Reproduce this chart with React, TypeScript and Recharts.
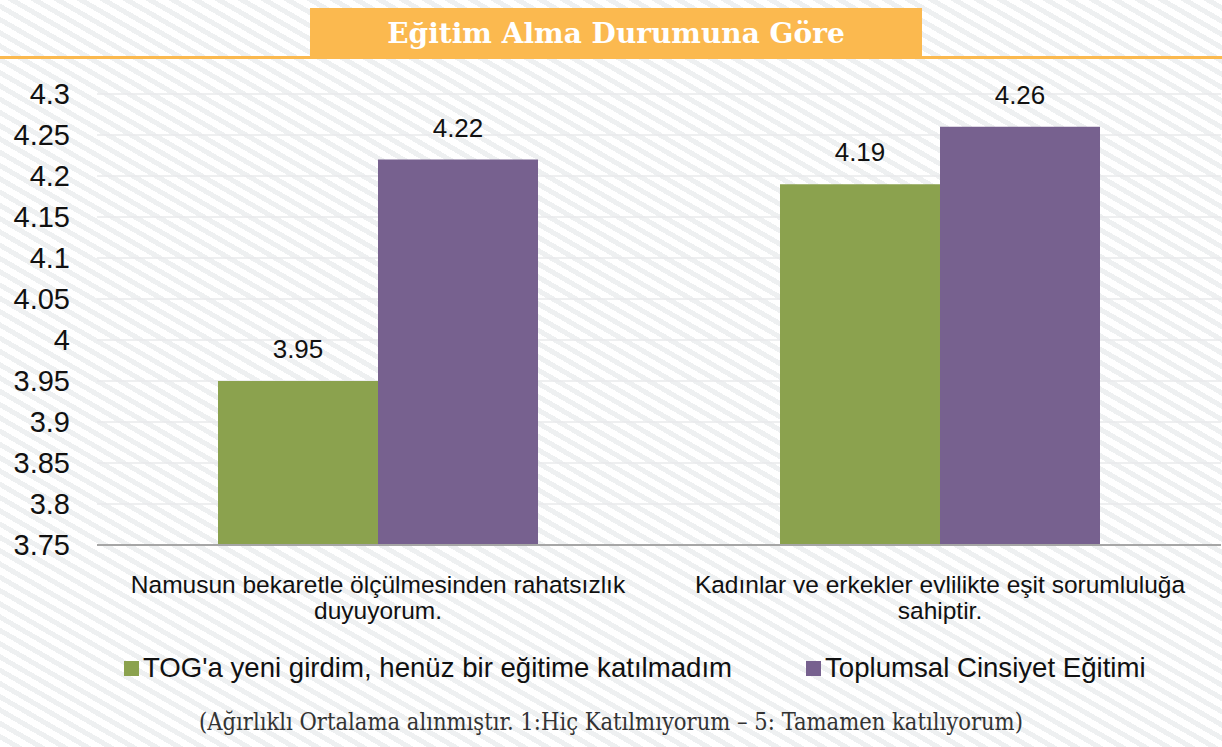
import { BarChart, Bar, XAxis, YAxis, CartesianGrid, LabelList } from 'recharts';

const categories = [
  'Namusun bekaretle ölçülmesinden rahatsızlık\nduyuyorum.',
  'Kadınlar ve erkekler evlilikte eşit sorumluluğa\nsahiptir.',
];
const yeniGirdim = [3.95, 4.19];
const cinsiyetEgitimi = [4.22, 4.26];
const yTicks = [3.75, 3.8, 3.85, 3.9, 3.95, 4, 4.05, 4.1, 4.15, 4.2, 4.25, 4.3];

const seriesNames = {
  yeni: "TOG'a yeni girdim, henüz bir eğitime katılmadım",
  egitim: 'Toplumsal Cinsiyet Eğitimi',
};

const GREEN = '#8ba24e';
const PURPLE = '#77618f';
const SANS = "'Liberation Sans', Arial, sans-serif";

const chartData = categories.map((name, i) => ({
  name,
  yeni: yeniGirdim[i],
  egitim: cinsiyetEgitimi[i],
}));

// iki satırlı kategori etiketi
const CategoryTick = ({ x, y, payload }: any) => {
  const lines = String(payload.value).split('\n');
  return (
    <g transform={`translate(${x},${y})`}>
      {lines.map((line, i) => (
        <text key={i} x={0} y={40 + i * 26} textAnchor="middle" fill="#111" fontSize={24.5} fontFamily={SANS}>
          {line}
        </text>
      ))}
    </g>
  );
};

export default function App() {
  const legendItems = [
    { label: seriesNames.yeni, color: GREEN },
    { label: seriesNames.egitim, color: PURPLE },
  ];
  return (
    <div
      style={{
        position: 'absolute',
        top: 0,
        left: 0,
        width: 1222,
        height: 747,
        overflow: 'hidden',
        background:
          'repeating-linear-gradient(30deg, #ffffff 0px, #ffffff 6.5px, #eef0f1 6.5px, #eef0f1 11.5px)',
      }}
    >
      <div style={{ position: 'absolute', left: 0, top: 56, width: 1222, height: 3, background: '#fbb94f' }} />
      <div
        style={{
          position: 'absolute',
          left: 310,
          top: 8,
          width: 612,
          height: 50,
          background: '#fbb94f',
          color: '#fff',
          fontFamily: "'DejaVu Serif', serif",
          fontWeight: 'bold',
          fontSize: 28,
          lineHeight: '52px',
          textAlign: 'center',
        }}
      >
        Eğitim Alma Durumuna Göre
      </div>

      <div style={{ position: 'absolute', left: 0, top: 0 }}>
        <BarChart
          width={1222}
          height={747}
          data={chartData}
          margin={{ top: 94, right: 1, bottom: 142, left: 0 }}
          barCategoryGap={121}
          barGap={0}
        >
          <CartesianGrid vertical={false} stroke="#e8eaeb" strokeWidth={1.5} />
          <XAxis
            dataKey="name"
            tick={<CategoryTick />}
            tickLine={false}
            axisLine={{ stroke: '#a6a6a6', strokeWidth: 2 }}
            interval={0}
            height={60}
          />
          <YAxis
            domain={[3.75, 4.3]}
            ticks={yTicks}
            interval={0}
            width={97}
            tickLine={false}
            axisLine={false}
            tickMargin={21}
            tick={{ fill: '#111', fontSize: 29, fontFamily: SANS }}
            tickFormatter={(v: number) => String(v)}
            allowDataOverflow
          />
          <Bar dataKey="yeni" name={seriesNames.yeni} fill={GREEN} isAnimationActive={false}>
            <LabelList dataKey="yeni" position="top" offset={23} fill="#111" fontSize={26} fontFamily={SANS} />
          </Bar>
          <Bar dataKey="egitim" name={seriesNames.egitim} fill={PURPLE} isAnimationActive={false}>
            <LabelList dataKey="egitim" position="top" offset={23} fill="#111" fontSize={26} fontFamily={SANS} />
          </Bar>
        </BarChart>
      </div>

      <div
        style={{
          position: 'absolute',
          left: 124,
          top: 652,
          display: 'flex',
          gap: 74,
          fontFamily: SANS,
          fontSize: 27.6,
          color: '#111',
        }}
      >
        {legendItems.map((item) => (
          <div key={item.label} style={{ display: 'flex', alignItems: 'center' }}>
            <span style={{ width: 15, height: 15, background: item.color, marginRight: 4, display: 'inline-block' }} />
            <span>{item.label}</span>
          </div>
        ))}
      </div>

      <div
        style={{
          position: 'absolute',
          left: 0,
          top: 708,
          width: 1222,
          textAlign: 'center',
          fontFamily: "'DejaVu Serif Condensed', 'DejaVu Serif', serif",
          fontStretch: 'condensed',
          fontSize: 23.5,
          color: '#333',
        }}
      >
        (Ağırlıklı Ortalama alınmıştır. 1:Hiç Katılmıyorum – 5: Tamamen katılıyorum)
      </div>
    </div>
  );
}
